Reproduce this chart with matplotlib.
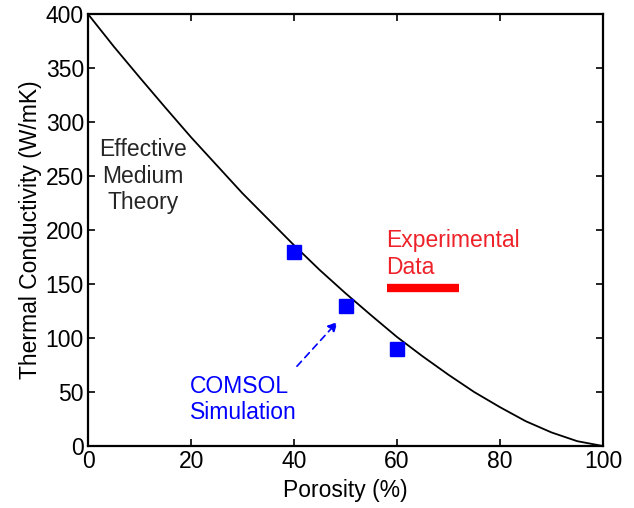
import matplotlib
matplotlib.use("Agg")
import matplotlib.pyplot as plt

plt.rcParams['font.family'] = ['Liberation Sans', 'DejaVu Sans']

# Effective medium theory curve
emt_porosity = [0, 5, 10, 15, 20, 25, 30, 35, 40, 45, 50, 55, 60, 65, 70, 75, 80, 85, 90, 95, 100]
emt_k = [400, 370, 341.5, 313.5, 286, 260, 234, 210, 186, 163, 141.5, 121, 101, 83, 66, 50, 36, 23, 12.6, 4.5, 0]

# COMSOL simulation points
sim_porosity = [40, 50, 60]
sim_k = [180, 130, 90]

# Experimental data bar
exp_porosity = [58, 72]
exp_k = [146, 146]

xticks = [0, 20, 40, 60, 80, 100]
yticks = [0, 50, 100, 150, 200, 250, 300, 350, 400]

FS = 16.5

fig = plt.figure(figsize=(6.34, 5.08), dpi=100)
ax = fig.add_axes([0.139, 0.122, 0.812, 0.850])

ax.plot(emt_porosity, emt_k, color='black', lw=1.3, solid_joinstyle='round')
ax.plot(sim_porosity, sim_k, 's', color='#0000ff', ms=10, mec='#0000ff')
ax.plot(exp_porosity, exp_k, color='#ff0000', lw=6, solid_capstyle='butt')

ax.text(10.7, 250, 'Effective\nMedium\nTheory', ha='center', va='center',
        fontsize=FS, color='#262626', linespacing=1.2)
ax.text(57.8, 178, 'Experimental\nData', ha='left', va='center',
        fontsize=FS, color='#ee2229', linespacing=1.2)
ax.text(19.8, 43, 'COMSOL\nSimulation', ha='left', va='center',
        fontsize=FS, color='#0000ff', linespacing=1.2)

ax.annotate('', xy=(48.8, 117), xytext=(40.2, 72),
            arrowprops=dict(arrowstyle='-|>', color='#0000ff', lw=1.2,
                            linestyle=(0, (4, 3)), mutation_scale=14))

ax.set_xlim(0, 100)
ax.set_ylim(0, 400)
ax.set_xticks(xticks)
ax.set_yticks(yticks)
ax.tick_params(direction='in', top=True, right=True, labelsize=FS, length=5, width=1.2, pad=3)
for s in ax.spines.values():
    s.set_linewidth(1.6)
ax.set_xlabel('Porosity (%)', fontsize=FS, labelpad=4)
ax.set_ylabel('Thermal Conductivity (W/mK)', fontsize=FS, labelpad=3)

fig.savefig('out.png', dpi=100)
